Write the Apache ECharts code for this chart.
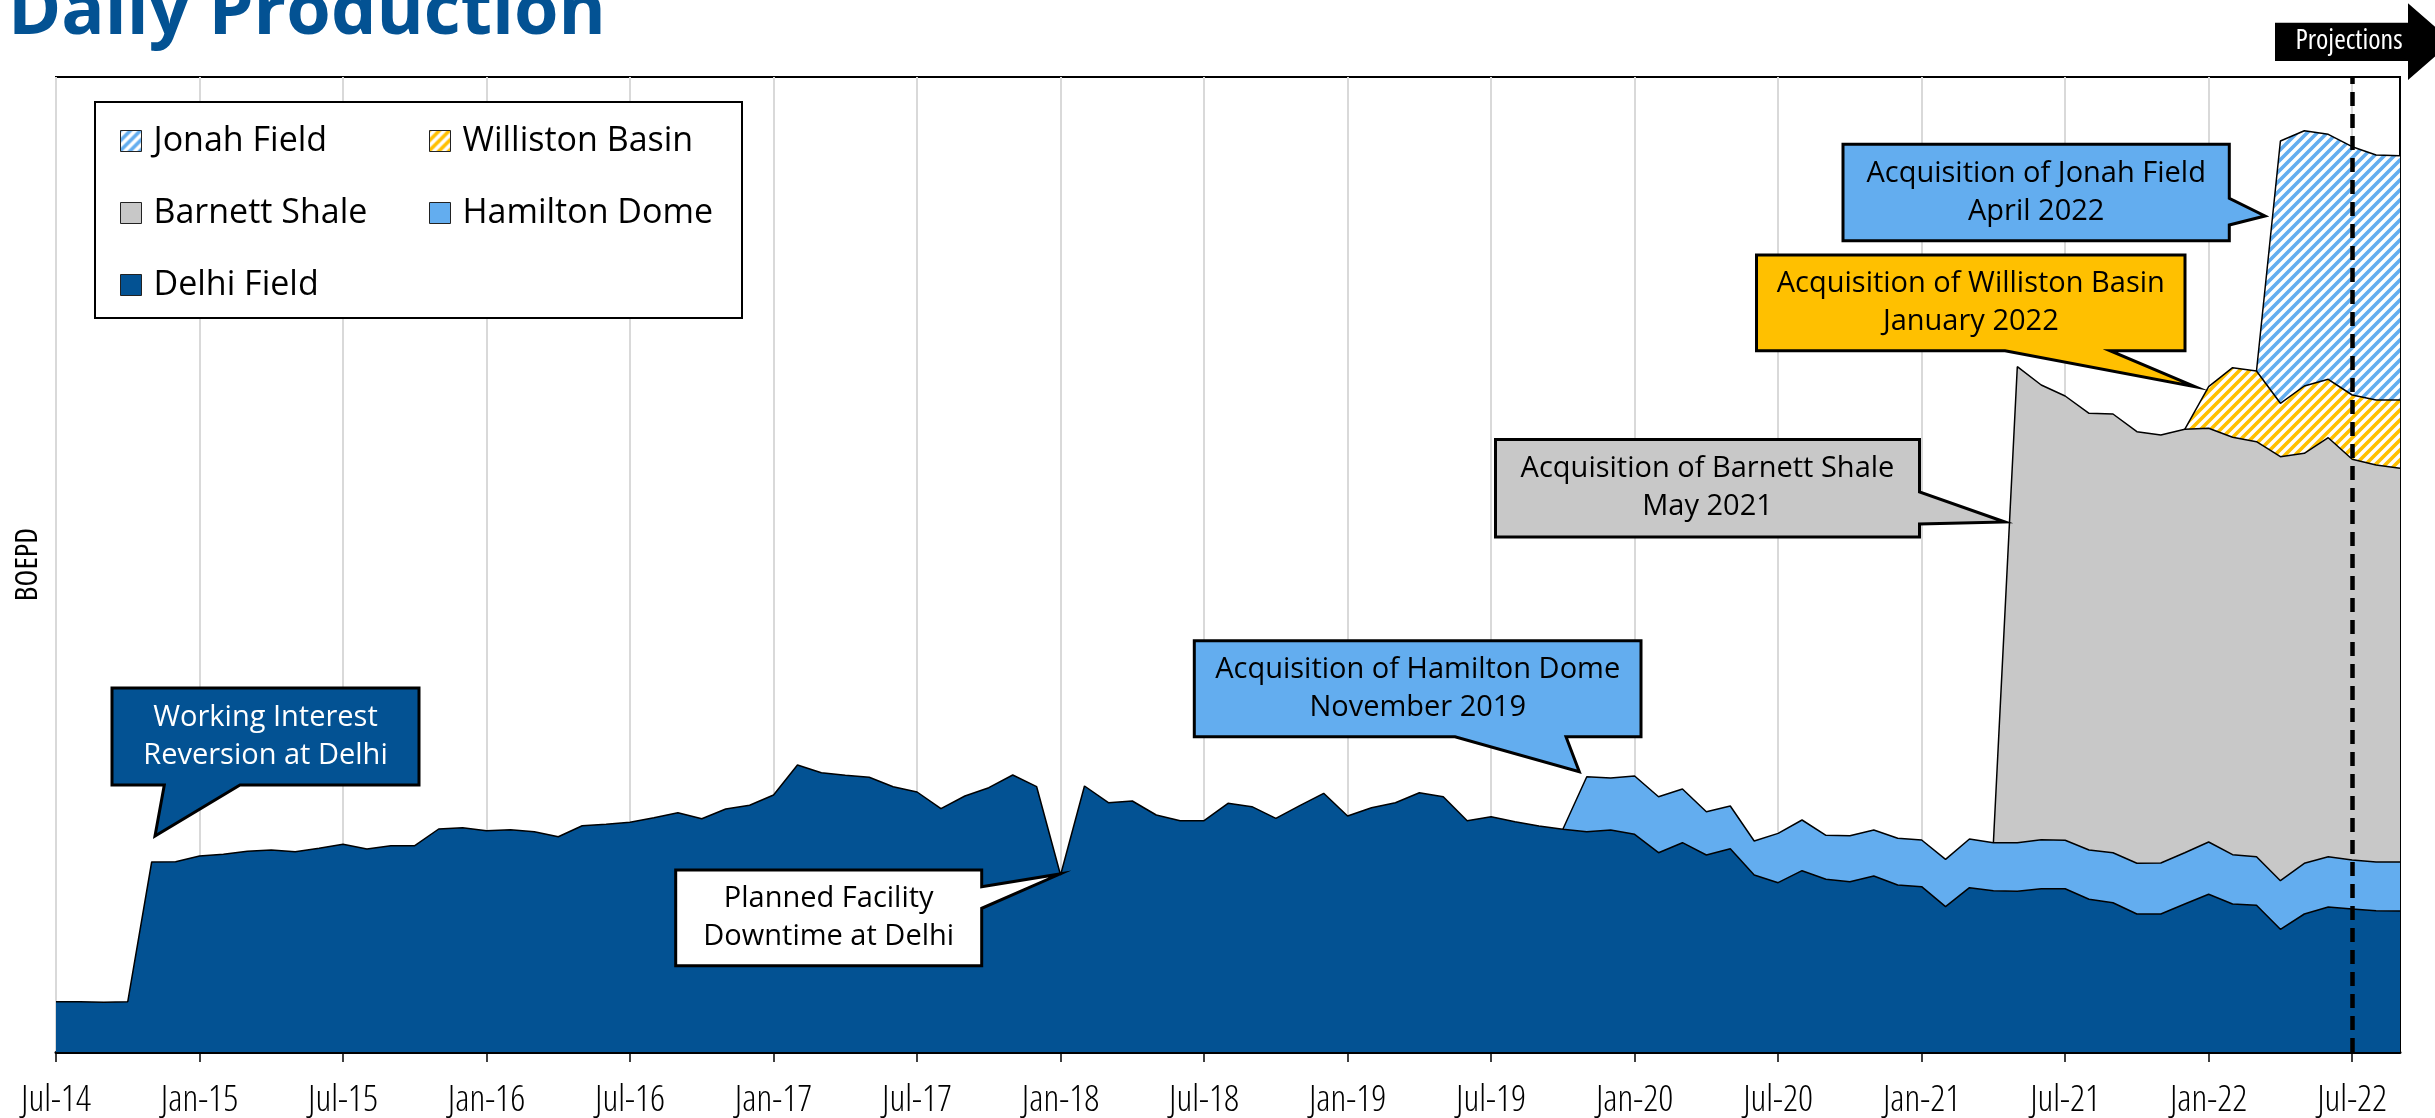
<!DOCTYPE html>
<html>
<head>
<meta charset="utf-8">
<script src="https://cdn.jsdelivr.net/npm/echarts@6/dist/echarts.min.js"></script>
<style>html,body{margin:0;padding:0;background:#fff}#c{width:2435px;height:1118px}</style>
</head>
<body>
<div id="c"></div>
<script>
const MONTH_NAMES = ['Jan','Feb','Mar','Apr','May','Jun','Jul','Aug','Sep','Oct','Nov','Dec'];
const firstYear = 2014, firstMonthIndex = 6, monthCount = 99;
const categories = [];
for (let i = 0; i < monthCount; i++) {
  const mi = (firstMonthIndex + i) % 12;
  const yr = firstYear + Math.floor((firstMonthIndex + i) / 12);
  categories.push(MONTH_NAMES[mi] + '-' + String(yr % 100).padStart(2, '0'));
}
const delhiField = [
  503,502,497,503,1900,1902,1960,1977,2007,2020,
  2003,2037,2077,2030,2063,2063,2230,2243,2213,2223,
  2203,2153,2263,2277,2297,2343,2393,2333,2430,2467,
  2570,2870,2793,2767,2747,2653,2600,2433,2560,2643,
  2770,2653,1770,2660,2493,2510,2370,2313,2313,2487,
  2453,2337,2463,2587,2360,2443,2493,2593,2553,2313,
  2353,2303,2260,2227,2203,2220,2177,1993,2093,1970,
  2033,1770,1693,1813,1727,1703,1760,1670,1653,1453,
  1643,1613,1607,1633,1633,1527,1493,1380,1380,1480,
  1577,1480,1467,1227,1380,1450,1430,1413,1410
];
const hamiltonStart = 'Oct-19';
const hamiltonDome = [0,550,520,583,560,537,433,427,340,493,507,440,460,460,467,467,473,487,480,486,490,484,493,500,507,510,513,523,493,486,486,507,503,490,487,490];
const barnettStart = 'Apr-21';
const barnettShale = [0,4760,4547,4443,4367,4387,4316,4280,4234,4137,4174,4150,4240,4100,4190,4007,3970,3937];
const willistonStart = 'Dec-21';
const willistonBasin = [0,416,696,707,534,673,584,643,650,683];
const jonahStart = 'Mar-22';
const jonahField = [0,2623,2553,2450,2483,2450,2443];
const projectionStart = 'Jul-22';
const yMax = 9750;

function pad(values, startCat) {
  const s = categories.indexOf(startCat);
  return categories.map((_, i) => (i - s >= 0 && i - s < values.length) ? values[i - s] : '-');
}
const C_DELHI = '#035293', C_HAM = '#63ADEF', C_GRAY = '#C8C8C8', C_GOLD = '#FFC000';
function hatch(color) {
  const s = 10, cv = document.createElement('canvas');
  cv.width = s; cv.height = s;
  const g = cv.getContext('2d');
  g.fillStyle = '#fff'; g.fillRect(0, 0, s, s);
  g.strokeStyle = color; g.lineWidth = 3.6; g.lineCap = 'square';
  for (const k of [-s, 0, s]) { g.beginPath(); g.moveTo(k, s); g.lineTo(k + s, 0); g.stroke(); }
  return { image: cv, repeat: 'repeat' };
}
const P_JONAH = hatch(C_HAM), P_WILL = hatch(C_GOLD);
const SANS = "'Open Sans','Noto Sans',sans-serif";
function areaSeries(name, data, fill, extra) {
  return Object.assign({
    name, type: 'line', stack: 'total', data,
    symbol: 'none', showSymbol: false, smooth: false,
    lineStyle: { color: '#000', width: 1.5 },
    itemStyle: { color: fill },
    areaStyle: { color: fill, opacity: 1 },
    emphasis: { disabled: true }, silent: true
  }, extra || {});
}
function callout(points, fill, text, cx, cy, textColor) {
  return [
    { type: 'polygon', z: 100, shape: { points }, style: { fill, stroke: '#000', lineWidth: 3, lineJoin: 'miter' } },
    { type: 'text', z: 101, x: cx, y: cy, style: { text, fill: textColor, font: '29px ' + SANS, align: 'center', verticalAlign: 'middle', lineHeight: 38 } }
  ];
}
const everySix = (i) => i % 6 === 0;

const chart = echarts.init(document.getElementById('c'), null, { renderer: 'canvas' });
const legendCommon = {
  orient: 'vertical', top: 121, padding: 0, itemWidth: 21, itemHeight: 21, itemGap: 32,
  icon: 'rect', selectedMode: false, z: 10,
  itemStyle: { borderColor: '#222', borderWidth: 1 },
  textStyle: { fontFamily: SANS, fontSize: 34, color: '#000', lineHeight: 40, padding: [0, 0, 0, 7] }
};
chart.setOption({
  animation: false,
  grid: { left: 56, right: 35, top: 77, bottom: 66, show: true, borderColor: '#000', borderWidth: 2, backgroundColor: 'transparent', outerBoundsMode: 'none' },
  legend: [
    Object.assign({}, legendCommon, { left: 120, data: ['Jonah Field', 'Barnett Shale', 'Delhi Field'] }),
    Object.assign({}, legendCommon, { left: 429, data: ['Williston Basin', 'Hamilton Dome'] })
  ],
  xAxis: {
    type: 'category', data: categories, boundaryGap: false,
    axisLine: { show: true, lineStyle: { color: '#000', width: 3 } },
    axisTick: { show: true, interval: everySix, length: 10, lineStyle: { color: '#000', width: 1.5 } },
    axisLabel: { interval: everySix, margin: 30, color: '#000', fontFamily: "'Open Sans'", fontWeight: '300 condensed', fontSize: 37 },
    splitLine: { show: true, interval: everySix, lineStyle: { color: '#D9D9D9', width: 2 } }
  },
  yAxis: {
    type: 'value', min: 0, max: yMax,
    axisLine: { show: false }, axisTick: { show: false }, axisLabel: { show: false }, splitLine: { show: false },
    name: 'BOEPD', nameLocation: 'middle', nameRotate: 90, nameGap: 12,
    nameTextStyle: { fontFamily: "'Open Sans'", fontWeight: 'normal condensed', fontSize: 31, color: '#000' }
  },
  series: [
    areaSeries('Delhi Field', delhiField, C_DELHI),
    areaSeries('Hamilton Dome', pad(hamiltonDome, hamiltonStart), C_HAM),
    areaSeries('Barnett Shale', pad(barnettShale, barnettStart), C_GRAY),
    areaSeries('Williston Basin', pad(willistonBasin, willistonStart), P_WILL),
    areaSeries('Jonah Field', pad(jonahField, jonahStart), P_JONAH, {
      markLine: {
        silent: true, symbol: ['none', 'none'], label: { show: false },
        lineStyle: { color: '#000', width: 4.5, type: [14, 8] },
        data: [{ xAxis: projectionStart }]
      }
    })
  ],
  graphic: [
    { type: 'rect', z: 3, shape: { x: 95, y: 102, width: 647, height: 216 }, style: { fill: '#fff', stroke: '#000', lineWidth: 2 } },
    { type: 'text', z: 100, x: 8, y: 13, style: { text: 'Daily Production', fill: '#035293', font: 'bold 72px ' + SANS, verticalAlign: 'middle' } },
    { type: 'polygon', z: 100, shape: { points: [[2275,22.7],[2408,22.7],[2408,3.3],[2452,41.7],[2408,80],[2408,61],[2275,61]] }, style: { fill: '#000' } },
    { type: 'text', z: 101, x: 2349, y: 41, style: { text: 'Projections', fill: '#fff', font: "normal condensed 28px 'Open Sans'", align: 'center', verticalAlign: 'middle' } },
    ...callout([[112,688],[419,688],[419,785],[240,785],[155,836],[164.3,785],[112,785]], C_DELHI, 'Working Interest\nReversion at Delhi', 265.5, 736.5, '#fff'),
    ...callout([[675.7,870],[981.7,870],[981.7,886.7],[1060,874],[981.7,908.3],[981.7,965.7],[675.7,965.7]], '#fff', 'Planned Facility\nDowntime at Delhi', 828.7, 917.8, '#000'),
    ...callout([[1194.3,640.7],[1641,640.7],[1641,736.7],[1566,736.7],[1579.3,771.7],[1455,736.7],[1194.3,736.7]], C_HAM, 'Acquisition of Hamilton Dome\nNovember 2019', 1417.7, 688.7, '#000'),
    ...callout([[1495.5,439.5],[1919.5,439.5],[1919.5,492],[2005,522],[1919.5,524],[1919.5,537],[1495.5,537]], C_GRAY, 'Acquisition of Barnett Shale\nMay 2021', 1707.5, 488, '#000'),
    ...callout([[1756.5,255],[2185,255],[2185,350.7],[2110,350.7],[2195,386.7],[2005,350.7],[1756.5,350.7]], C_GOLD, 'Acquisition of Williston Basin\nJanuary 2022', 1970.8, 302.9, '#000'),
    ...callout([[1843,144.3],[2229.3,144.3],[2229.3,198.3],[2265,216],[2229.3,225],[2229.3,240.7],[1843,240.7]], C_HAM, 'Acquisition of Jonah Field\nApril 2022', 2036.2, 192.5, '#000')
  ]
});
</script>
</body>
</html>
